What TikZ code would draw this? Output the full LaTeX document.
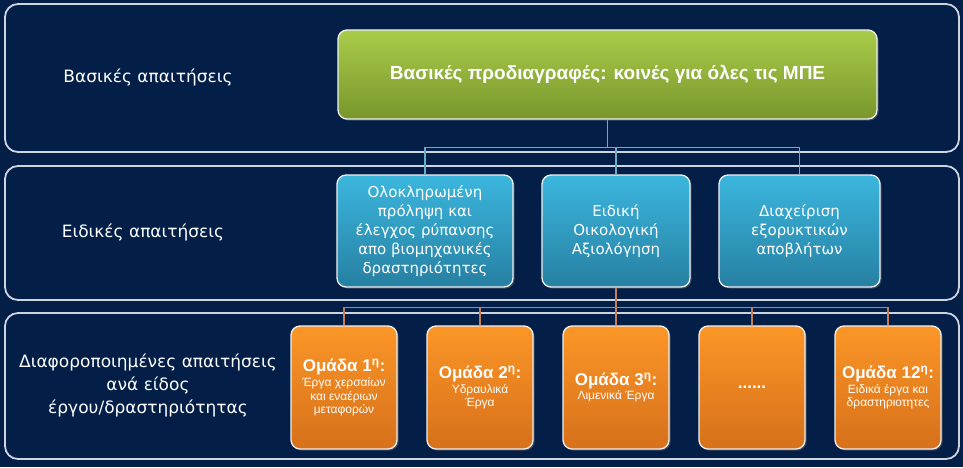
\documentclass[tikz,border=0pt]{standalone}
\usepackage{fontspec}
\setmainfont{DejaVu Sans}
\newfontfamily\boxfont{Liberation Sans}
\newcommand{\grouptitlefont}{\boxfont\bfseries\fontsize{17}{19}\selectfont}
\usetikzlibrary{shadows}

\definecolor{navybg}{RGB}{3,31,72}
\definecolor{bandline}{RGB}{205,212,224}
\definecolor{greentop}{RGB}{170,204,74}
\definecolor{greenbot}{RGB}{120,150,44}
\definecolor{bluetop}{RGB}{60,182,222}
\definecolor{bluebot}{RGB}{38,128,162}
\definecolor{orangetop}{RGB}{251,150,40}
\definecolor{orangebot}{RGB}{214,112,26}
\definecolor{blueconn}{RGB}{105,172,202}
\definecolor{orangeconn}{RGB}{196,128,92}

\begin{document}
\begin{tikzpicture}[x=1pt, y=-1pt,
    band/.style={draw=bandline, line width=1.8pt, rounded corners=13pt, minimum width=954pt},
    bandlabel/.style={text=white, font=\fontsize{17}{23}\selectfont, align=center},
    card/.style={draw=white!88!gray, line width=1.3pt, rounded corners=9pt, text=white, align=center,
        inner sep=2pt, drop shadow={opacity=0.45, shadow xshift=1.5pt, shadow yshift=-1.5pt}},
    basecard/.style={card, top color=greentop, bottom color=greenbot, minimum width=539pt, minimum height=89pt,
        font=\boxfont\bfseries\fontsize{19}{22}\selectfont},
    speccard/.style={card, top color=bluetop, bottom color=bluebot, minimum height=112pt,
        font=\fontsize{15}{19}\selectfont},
    groupcard/.style={card, top color=orangetop, bottom color=orangebot, minimum width=106pt, minimum height=123pt,
        font=\boxfont\fontsize{12}{13.5}\selectfont},
    conn/.style={line width=1.2pt}]

% ---------------- Background ----------------
\fill[navybg] (0,0) rectangle (963,467);
\useasboundingbox (0,0) rectangle (963,467);

% ---------------- Bands ----------------
\node[band, minimum height=148pt] (bandA) at (482,78) {};
\node[band, minimum height=134pt] (bandB) at (482,233) {};
\node[band, minimum height=146pt] (bandC) at (482,386) {};

\node[bandlabel] (labA) at (148,77) {Βασικές απαιτήσεις};
\node[bandlabel] (labB) at (143,232) {Ειδικές απαιτήσεις};
\node[bandlabel] (labC) at (148,385) {Διαφοροποιημένες απαιτήσεις\\ανά είδος\\έργου/δραστηριότητας};

% ---------------- Boxes ----------------
\node[basecard] (base) at (607.5,74.5) {Βασικές προδιαγραφές: κοινές για όλες τις ΜΠΕ};

\node[speccard, minimum width=176pt] (spec1) at (425,231)
    {Ολοκληρωμένη\\πρόληψη και\\έλεγχος ρύπανσης\\απο βιομηχανικές\\δραστηριότητες};
\node[speccard, minimum width=148pt] (spec2) at (616,231) {Ειδική\\Οικολογική\\Αξιολόγηση};
\node[speccard, minimum width=161pt] (spec3) at (799.5,231) {Διαχείριση\\εξορυκτικών\\αποβλήτων};

\node[groupcard] (grp1) at (344,387.5)
    {{\grouptitlefont Ομάδα 1\textsuperscript{η}:}\\[2pt]Έργα χερσαίων\\και εναέριων\\μεταφορών};
\node[groupcard] (grp2) at (480,387.5)
    {{\grouptitlefont Ομάδα 2\textsuperscript{η}:}\\[1pt]Υδραυλικά\\Έργα};
\node[groupcard] (grp3) at (616,387.5)
    {{\grouptitlefont Ομάδα 3\textsuperscript{η}:}\\[1pt]Λιμενικά Έργα};
\node[groupcard] (grp4) at (752,387.5) {\grouptitlefont ......};
\node[groupcard] (grp5) at (888,387.5)
    {{\grouptitlefont Ομάδα 12\textsuperscript{η}:}\\[1pt]Ειδικά έργα και\\δραστηριοτητες};

% ---------------- Connectors ----------------
\draw[conn, draw=blueconn] (base.south) -- ++(0,28) coordinate (bluebus);
\foreach \s in {spec1,spec2,spec3}
    \draw[conn, draw=blueconn] (bluebus) -| (\s.north);

\draw[conn, draw=orangeconn] (spec2.south) -- ++(0,20) coordinate (orangebus);
\foreach \g in {grp1,grp2,grp3,grp4,grp5}
    \draw[conn, draw=orangeconn] (orangebus) -| (\g.north);

\end{tikzpicture}
\end{document}
